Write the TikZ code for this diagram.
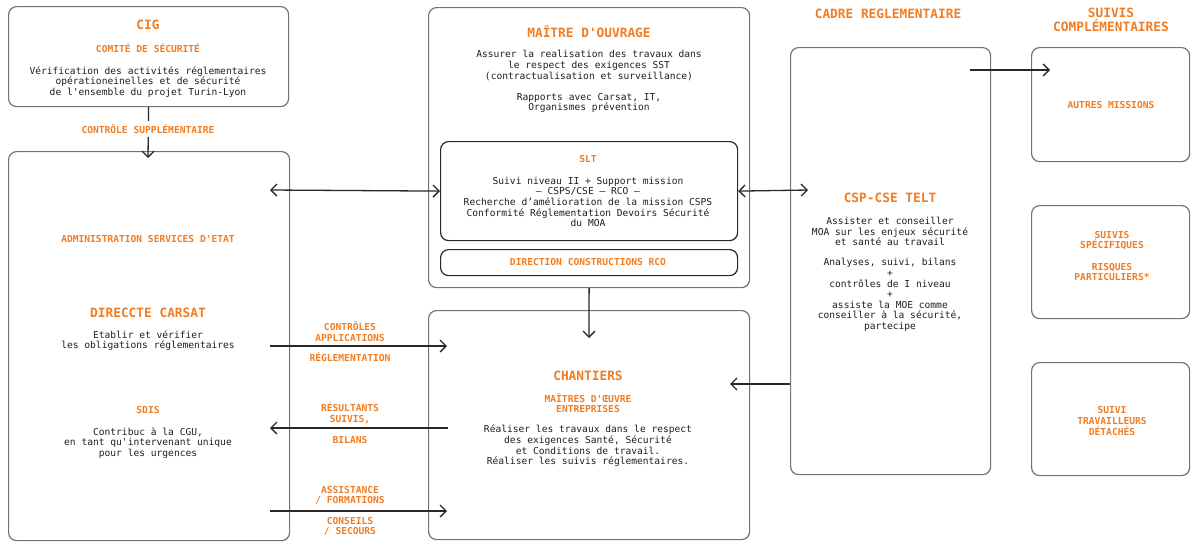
\documentclass[tikz,border=0pt]{standalone}
\usepackage{fontspec}
\setmonofont{DejaVu Sans Mono}
\usetikzlibrary{arrows.meta}
\definecolor{org}{RGB}{240,125,35}
\definecolor{txt}{RGB}{30,30,30}
\definecolor{bx}{RGB}{115,115,115}
\definecolor{ln}{RGB}{40,40,40}
\begin{document}
\begin{tikzpicture}[x=0.5pt,y=-0.5pt,
  box/.style={draw=bx, line width=0.6pt, rounded corners=4pt, anchor=north west, inner sep=0pt},
  darkbox/.style={box, draw=ln},
  body/.style={font=\ttfamily\fontsize{4.8}{5.3}\selectfont, text=txt, align=center, inner sep=0pt},
  head/.style={font=\ttfamily\bfseries\fontsize{6.4}{7}\selectfont, text=org, align=center, inner sep=0pt},
  sub/.style={font=\ttfamily\bfseries\fontsize{4.8}{5.3}\selectfont, text=org, align=center, inner sep=0pt},
  lab/.style={sub, fill=white, inner sep=1.5pt},
  arr/.style={draw=ln, line width=0.65pt, -{Straight Barb[length=3pt,width=6pt]}},
  darr/.style={draw=ln, line width=0.65pt, {Straight Barb[length=3pt,width=6pt]}-{Straight Barb[length=3pt,width=6pt]}}
]
\useasboundingbox (0,0) rectangle (1192,541);

% boxes
\node[box, minimum width=140pt, minimum height=50pt] (cig) at (8,6) {};
\node[box, minimum width=140.5pt, minimum height=194.5pt] (adm) at (8,151) {};
\node[box, minimum width=160.5pt, minimum height=140pt] (moa) at (428,7) {};
\node[darkbox, minimum width=148.5pt, minimum height=49.5pt] (slt) at (440,141) {};
\node[darkbox, minimum width=148.5pt, minimum height=13pt] (dir) at (440,249) {};
\node[box, minimum width=160.5pt, minimum height=114.5pt] (chan) at (428,310) {};
\node[box, minimum width=100pt, minimum height=213.5pt] (csp) at (790,47) {};
\node[box, minimum width=79pt, minimum height=57pt] (aut) at (1031,47) {};
\node[box, minimum width=79pt, minimum height=56.5pt] (spe) at (1031,205) {};
\node[box, minimum width=79pt, minimum height=56.5pt] (det) at (1031,362) {};

% CIG
\node[head] (cigt) at (148,25) {CIG};
\node[sub] (cigs) at (148,48) {COMITÉ DE SÉCURITÉ};
\node[body] (cigb) at (148,82) {Vérification des activités réglementaires\\opérationeinelles et de sécurité\\de l'ensemble du projet Turin-Lyon};

% left box
\node[sub] (admt) at (148,239) {ADMINISTRATION SERVICES D'ETAT};
\node[head] (dirt) at (148,313) {DIRECCTE CARSAT};
\node[body] (dirb) at (148,340.5) {Etablir et vérifier\\les obligations réglementaires};
\node[sub] (sdis) at (148,410) {SDIS};
\node[body] (sdisb) at (148,443) {Contribuc à la CGU,\\en tant qu'intervenant unique\\pour les urgences};

% MOA
\node[head] (moat) at (589,32) {MAÎTRE D'OUVRAGE};
\node[body] (moab) at (589,65.5) {Assurer la realisation des travaux dans\\le respect des exigences SST\\(contractualisation et surveillance)};
\node[body] (moac) at (589,103) {Rapports avec Carsat, IT,\\Organismes prévention};
\node[sub] (sltt) at (588,159) {SLT};
\node[body] (sltb) at (588,202) {Suivi niveau II + Support mission\\– CSPS/CSE – RCO –\\Recherche d’amélioration de la mission CSPS\\Conformité Réglementation Devoirs Sécurité\\du MOA};
\node[sub] (dirtx) at (588,262) {DIRECTION CONSTRUCTIONS RCO};

% Chantiers
\node[head] (chant) at (588,376) {CHANTIERS};
\node[sub] (chans) at (588,403) {MAÎTRES D'ŒUVRE\\ENTREPRISES};
\node[body] (chanb) at (588,446) {Réaliser les travaux dans le respect\\des exigences Santé, Sécurité\\et Conditions de travail.\\Réaliser les suivis réglementaires.};

% CSP
\node[head] (cadre) at (888,14) {CADRE REGLEMENTAIRE};
\node[head] (cspt) at (890,198) {CSP-CSE TELT};
\node[body] (cspb) at (890,231.5) {Assister et conseiller\\MOA sur les enjeux sécurité\\et santé au travail};
\node[body] (cspc) at (890,295) {Analyses, suivi, bilans\\+\\contrôles de I niveau\\+\\assiste la MOE comme\\conseiller à la sécurité,\\partecipe};

% right column
\node[head] (suivt) at (1111,20) {SUIVIS\\COMPLÉMENTAIRES};
\node[sub] (autt) at (1111,105) {AUTRES MISSIONS};
\node[sub] (spet) at (1112,240.5) {SUIVIS\\SPÉCIFIQUES};
\node[sub] (spes) at (1112,272) {RISQUES\\PARTICULIERS*};
\node[sub] (dett) at (1112,421) {SUIVI\\TRAVAILLEURS\\DÉTACHÉS};

% coordinates
\coordinate (c1) at (148,158);
\coordinate (a1) at (270,190);
\coordinate (a2) at (808,190);
\coordinate (b1) at (270,346);
\coordinate (b2) at (447,346);
\coordinate (d1) at (448,428);
\coordinate (d2) at (270,428);
\coordinate (e1) at (270,511);
\coordinate (e2) at (447,511);
\coordinate (m1) at (589,338);
\coordinate (p1) at (790,384);
\coordinate (p2) at (730,384);
\coordinate (q1) at (970,70);
\coordinate (q2) at (1050,70);

% connectors
\draw[arr] (cig.south) -- (c1);
\node[lab] (l1) at (148,129) {CONTRÔLE SUPPLÉMENTAIRE};
\draw[darr] (a1) -- (slt.west);
\draw[darr] (slt.east) -- (a2);
\draw[arr] (b1) -- (b2);
\node[sub] (l2) at (350,331.5) {CONTRÔLES\\APPLICATIONS};
\node[sub] (l3) at (350,357) {RÉGLEMENTATION};
\draw[arr] (d1) -- (d2);
\node[sub] (l4) at (350,413.5) {RÉSULTANTS\\SUIVIS,};
\node[sub] (l5) at (350,440) {BILANS};
\draw[arr] (e1) -- (e2);
\node[sub] (l6) at (350,495.5) {ASSISTANCE\\/ FORMATIONS};
\node[sub] (l7) at (350,526.5) {CONSEILS\\/ SECOURS};
\draw[arr] (moa.south) -- (m1);
\draw[arr] (p1) -- (p2);
\draw[arr] (q1) -- (q2);
\end{tikzpicture}
\end{document}
